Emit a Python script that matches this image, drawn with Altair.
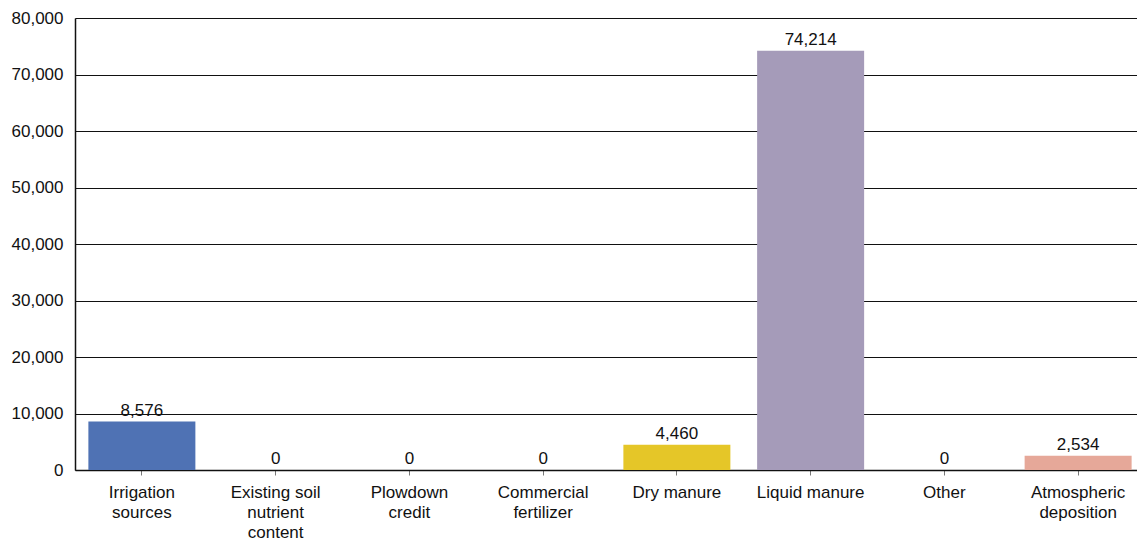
import altair as alt
import pandas as pd

categories = ["Irrigation|sources", "Existing soil|nutrient|content", "Plowdown|credit",
              "Commercial|fertilizer", "Dry manure", "Liquid manure", "Other", "Atmospheric|deposition"]
values = [8576, 0, 0, 0, 4460, 74214, 0, 2534]
colors = ["#4f72b4", "#9fb4d8", "#c8c8c8", "#c8c8c8", "#e5c628", "#a59bb9", "#c8c8c8", "#e6a899"]

df = pd.DataFrame({"cat": categories, "value": values, "color": colors})
df["label"] = df["value"].map(lambda v: f"{v:,}")

FONT = "Liberation Sans"

x = alt.X("cat:N", sort=categories, title=None,
          scale=alt.Scale(paddingInner=0.2, paddingOuter=0.1),
          axis=alt.Axis(labelAngle=0, labelExpr="split(datum.label, '|')",
                        labelFontSize=17, labelFont=FONT, labelColor="#111111",
                        labelLineHeight=20, labelPadding=9, labelBaseline="top",
                        domainColor="#111111", domainWidth=1.5,
                        tickColor="#777777", tickSize=5, grid=False))
y = alt.Y("value:Q", title=None,
          scale=alt.Scale(domain=[0, 80000]),
          axis=alt.Axis(values=list(range(0, 80001, 10000)), format=",.0f",
                        labelFontSize=17, labelFont=FONT, labelColor="#111111",
                        labelPadding=12, tickSize=0,
                        domainColor="#111111", domainWidth=1.5,
                        grid=True, gridColor="#111111", gridWidth=1))

bars = alt.Chart(df).mark_bar().encode(
    x=x, y=y, color=alt.Color("color:N", scale=None))
text = alt.Chart(df).mark_text(dy=-11, fontSize=17, font=FONT, color="#111111").encode(
    x=alt.X("cat:N", sort=categories), y="value:Q", text="label:N")

chart = (bars + text).properties(
    width=1070, height=452,
    autosize=alt.AutoSizeParams(type="none"),
    padding={"left": 67, "top": 10, "right": -8, "bottom": 70},
).configure_view(stroke=None).configure(background="white")

chart.save("out.html", embed_options={"renderer": "svg", "actions": False})
